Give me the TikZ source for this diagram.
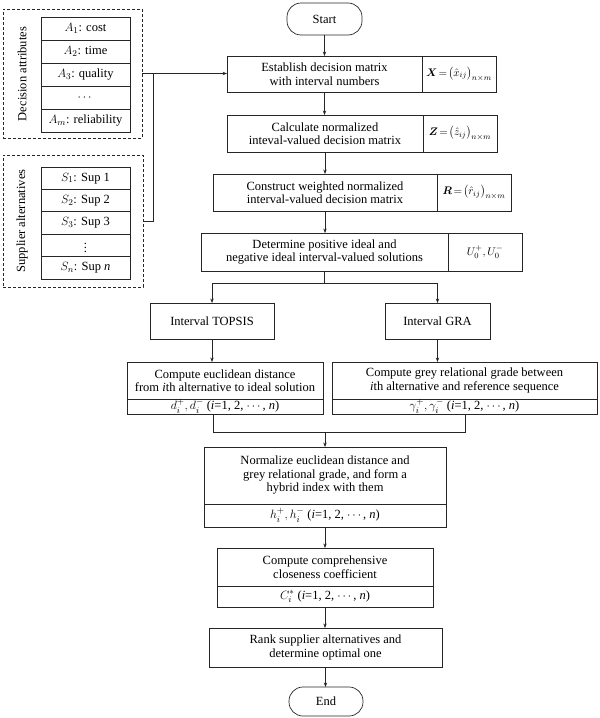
\documentclass[tikz,border=0pt]{standalone}
\usepackage{amsmath}
\usepackage{bm}
\usepackage{fontspec}
\setmainfont{Liberation Serif}
\usetikzlibrary{arrows.meta}
\newcommand\fs{\fontsize{12.5pt}{13.5pt}\selectfont}
\newcommand\ffs{\fontsize{11pt}{12pt}\selectfont}
\tikzset{
  every node/.style={font=\fs, text=black},
  box/.style={draw=black!85, line width=0.7pt, inner sep=0pt, outer sep=0pt, align=center, anchor=north west},
  fbox/.style={box, font=\ffs},
  term/.style={box, rounded corners=14pt},
  cell/.style={box, minimum width=89pt},
  dbox/.style={draw=black!85, line width=0.7pt, dash pattern=on 3pt off 2pt, inner sep=0pt, outer sep=0pt, anchor=north west},
  arr/.style={draw=black!85, line width=0.6pt, -{Stealth[length=4.5pt,width=3.4pt]}},
  ln/.style={draw=black!85, line width=0.6pt},
}
\begin{document}
\begin{tikzpicture}[x=1pt,y=-1pt]
\useasboundingbox (0,0) rectangle (600,718);
% left panels
\node[dbox, minimum width=139pt, minimum height=129pt] (da) at (3,9) {};
\node[rotate=90] (dalab) at (22,74) {Decision attributes};
\node[cell, minimum height=23pt] (a1) at (41,17) {$A_1$: cost};
\node[cell, minimum height=23pt] (a2) at (41,40) {$A_2$: time};
\node[cell, minimum height=23pt] (a3) at (41,63) {$A_3$: quality};
\node[cell, minimum height=23pt] (a4) at (41,86) {$\cdots$};
\node[cell, minimum height=23pt] (a5) at (41,109) {$A_m$: reliability};

\node[dbox, minimum width=140pt, minimum height=132pt] (sa) at (3,155) {};
\node[rotate=90] (salab) at (22,221) {Supplier alternatives};
\node[cell, minimum height=22.4pt] (s1) at (41,167) {$S_1$: Sup 1};
\node[cell, minimum height=22.4pt] (s2) at (41,189.4) {$S_2$: Sup 2};
\node[cell, minimum height=22.4pt] (s3) at (41,211.8) {$S_3$: Sup 3};
\node[cell, minimum height=22.4pt] (s4) at (41,234.2) {$\vdots$};
\node[cell, minimum height=22.4pt] (s5) at (41,256.6) {$S_n$: Sup \textit{n}};

% main flow
\node[term, minimum width=75pt, minimum height=32pt] (start) at (287,3) {Start};
\node[box, minimum width=195pt, minimum height=36pt] (est) at (227,56) {Establish decision matrix\\with interval numbers};
\node[fbox, minimum width=74pt, minimum height=36pt] (estf) at (422,56) {$\bm{X}\!=\!\big(\hat{x}_{ij}\big)_{n\times m}$};
\node[box, minimum width=196pt, minimum height=37pt] (calc) at (227,115) {Calculate normalized\\inteval-valued decision matrix};
\node[fbox, minimum width=74pt, minimum height=37pt] (calcf) at (423,115) {$\bm{Z}\!=\!\big(\hat{z}_{ij}\big)_{n\times m}$};
\node[box, minimum width=224pt, minimum height=37pt] (cons) at (213,174) {Construct weighted normalized\\interval-valued decision matrix};
\node[fbox, minimum width=74pt, minimum height=37pt] (consf) at (437,174) {$\bm{R}\!=\!\big(\hat{r}_{ij}\big)_{n\times m}$};
\node[box, minimum width=247pt, minimum height=38pt] (det) at (201,233) {Determine positive ideal and\\negative ideal interval-valued solutions};
\node[fbox, minimum width=74pt, minimum height=38pt] (detf) at (448,233) {$U_0^+,U_0^-$};

\node[box, minimum width=124pt, minimum height=36pt] (topsis) at (150,303) {Interval TOPSIS};
\node[box, minimum width=105pt, minimum height=36pt] (gra) at (385,303) {Interval GRA};

\node[box, minimum width=196pt, minimum height=37pt] (eucl) at (127,362) {Compute euclidean distance\\from \textit{i}th alternative to ideal solution};
\node[box, minimum width=196pt, minimum height=15pt] (euclb) at (127,399) {$d_i^+,d_i^-$ (\textit{i}=1, 2, $\cdots$, \textit{n})};
\node[box, minimum width=265pt, minimum height=37pt] (grey) at (332,362) {Compute grey relational grade between\\\textit{i}th alternative and reference sequence};
\node[box, minimum width=265pt, minimum height=15pt] (greyb) at (332,399) {$\gamma_i^+,\gamma_i^-$ (\textit{i}=1, 2, $\cdots$, \textit{n})};

\node[box, minimum width=242pt, minimum height=57pt] (norm) at (204,447) {Normalize euclidean distance and\\grey relational grade, and form a\\hybrid index with them};
\node[box, minimum width=242pt, minimum height=23pt] (normb) at (204,504) {$h_i^+,h_i^-$ (\textit{i}=1, 2, $\cdots$, \textit{n})};

\node[box, minimum width=216pt, minimum height=38pt] (comp) at (217,548) {Compute comprehensive\\closeness coefficient};
\node[box, minimum width=216pt, minimum height=21pt] (compb) at (217,586) {$C_i^*$ (\textit{i}=1, 2, $\cdots$, \textit{n})};

\node[box, minimum width=233pt, minimum height=39pt] (rank) at (209,628) {Rank supplier alternatives and\\determine optimal one};
\node[term, minimum width=74pt, minimum height=29pt] (end) at (289,687) {End};

% connectors
\draw[arr] (da.east) -- (da.east -| est.west);
\coordinate (jn) at (153,74);
\draw[ln] (sa.east) -| (jn);
\draw[arr] (start.south) -- (start.south |- est.north);
\draw[arr] (est.south) -- (est.south |- calc.north);
\draw[arr] (calc.south) -- (calc.south |- cons.north);
\draw[arr] (cons.south) -- (cons.south |- det.north);
\coordinate (brL) at (212,283);
\coordinate (brR) at (437.5,283);
\draw[ln] (det.south) -- (det.south |- brL);
\draw[ln] (brL) -- (brR);
\draw[arr] (brL) -- (brL |- topsis.north);
\draw[arr] (brR) -- (brR |- gra.north);
\draw[arr] (topsis.south) -- (topsis.south |- eucl.north);
\draw[arr] (gra.south) -- (gra.south |- grey.north);
\coordinate (mL) at (213,432);
\coordinate (mR) at (465,432);
\coordinate (mM) at (325,432);
\draw[ln] (euclb.south -| mL) -- (mL) -- (mR) -- (greyb.south -| mR);
\draw[arr] (mM) -- (mM |- norm.north);
\draw[arr] (normb.south) -- (normb.south |- comp.north);
\draw[arr] (compb.south) -- (compb.south |- rank.north);
\draw[arr] (rank.south) -- (rank.south |- end.north);
\end{tikzpicture}
\end{document}
